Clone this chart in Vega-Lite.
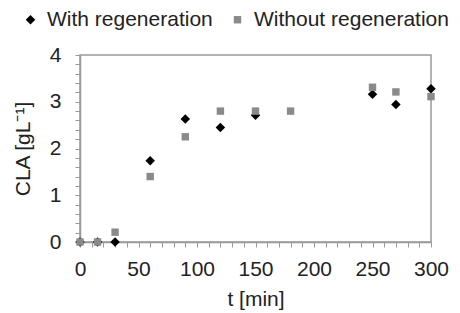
{
  "$schema": "https://vega.github.io/schema/vega-lite/v6.json",
  "width": 351,
  "height": 187,
  "autosize": "none",
  "padding": {"left": 80, "top": 55, "right": 29, "bottom": 71},
  "config": {
    "font": "Liberation Sans",
    "view": {"stroke": "#999999", "strokeWidth": 1.5}
  },
  "data": {
    "values": [
      {"t": 0, "c": 0, "series": "With regeneration"},
      {"t": 15, "c": 0, "series": "With regeneration"},
      {"t": 30, "c": 0, "series": "With regeneration"},
      {"t": 60, "c": 1.74, "series": "With regeneration"},
      {"t": 90, "c": 2.63, "series": "With regeneration"},
      {"t": 120, "c": 2.45, "series": "With regeneration"},
      {"t": 150, "c": 2.71, "series": "With regeneration"},
      {"t": 250, "c": 3.16, "series": "With regeneration"},
      {"t": 270, "c": 2.94, "series": "With regeneration"},
      {"t": 300, "c": 3.28, "series": "With regeneration"},
      {"t": 0, "c": 0, "series": "Without regeneration"},
      {"t": 15, "c": 0, "series": "Without regeneration"},
      {"t": 30, "c": 0.21, "series": "Without regeneration"},
      {"t": 60, "c": 1.4, "series": "Without regeneration"},
      {"t": 90, "c": 2.25, "series": "Without regeneration"},
      {"t": 120, "c": 2.8, "series": "Without regeneration"},
      {"t": 150, "c": 2.8, "series": "Without regeneration"},
      {"t": 180, "c": 2.8, "series": "Without regeneration"},
      {"t": 250, "c": 3.31, "series": "Without regeneration"},
      {"t": 270, "c": 3.21, "series": "Without regeneration"},
      {"t": 300, "c": 3.11, "series": "Without regeneration"}
    ]
  },
  "mark": {"type": "point", "filled": true, "opacity": 1},
  "encoding": {
    "x": {
      "field": "t", "type": "quantitative",
      "scale": {"domain": [0, 300], "nice": false},
      "axis": {
        "title": "t [min]",
        "values": [0,10,20,30,40,50,60,70,80,90,100,110,120,130,140,150,160,170,180,190,200,210,220,230,240,250,260,270,280,290,300],
        "labelExpr": "datum.value % 50 === 0 ? format(datum.value, 'd') : ''",
        "labelOverlap": false, "labelFlush": false, "labelBound": false,
        "grid": false,
        "domainColor": "#999999", "domainWidth": 1.5,
        "tickColor": "#999999", "tickSize": 5, "tickWidth": 1,
        "labelFontSize": 21, "labelColor": "#222222", "labelPadding": 11,
        "titleFontSize": 21, "titleFontWeight": "normal", "titleColor": "#222222", "titlePadding": 9
      }
    },
    "y": {
      "field": "c", "type": "quantitative",
      "scale": {"domain": [0, 4], "nice": false},
      "axis": {
        "title": "CLA [gL⁻¹]",
        "values": [0,0.2,0.4,0.6,0.8,1,1.2,1.4,1.6,1.8,2,2.2,2.4,2.6,2.8,3,3.2,3.4,3.6,3.8,4],
        "labelExpr": "datum.value % 1 === 0 ? format(datum.value, 'd') : ''",
        "labelOverlap": false, "labelFlush": false, "labelBound": false,
        "grid": false,
        "domainColor": "#999999", "domainWidth": 1.5,
        "tickColor": "#999999", "tickSize": 5, "tickWidth": 1,
        "labelFontSize": 21, "labelColor": "#222222", "labelPadding": 14,
        "titleFontSize": 21, "titleFontWeight": "normal", "titleColor": "#222222", "titlePadding": 16
      }
    },
    "shape": {
      "field": "series", "type": "nominal",
      "scale": {"domain": ["With regeneration", "Without regeneration"], "range": ["diamond", "square"]},
      "legend": {
        "title": null, "orient": "none", "direction": "horizontal",
        "legendX": -60, "legendY": -46, "labelLimit": 400,
        "labelFontSize": 21, "labelColor": "#222222",
        "symbolSize": 60, "columnPadding": 14, "labelOffset": 6
      }
    },
    "color": {
      "field": "series", "type": "nominal",
      "scale": {"domain": ["With regeneration", "Without regeneration"], "range": ["#000000", "#8a8a8a"]},
      "legend": {
        "title": null, "orient": "none", "direction": "horizontal",
        "legendX": -60, "legendY": -46, "labelLimit": 400,
        "labelFontSize": 21, "labelColor": "#222222",
        "symbolSize": 60, "columnPadding": 14, "labelOffset": 6
      }
    },
    "size": {
      "field": "series", "type": "nominal",
      "scale": {"domain": ["With regeneration", "Without regeneration"], "range": [90, 55]},
      "legend": null
    }
  }
}
